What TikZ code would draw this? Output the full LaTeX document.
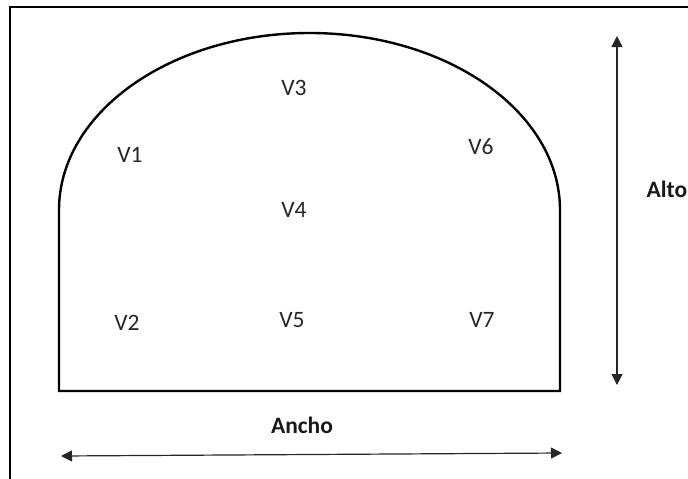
\documentclass[tikz,border=0pt]{standalone}
\usepackage{fontspec}
\setmainfont{Carlito}
\usetikzlibrary{arrows.meta}
\tikzset{
  label/.style = {font=\fontsize{23.5}{25}\selectfont, text=black!85},
  dimlabel/.style = {font=\fontsize{23.5}{25}\selectfont\bfseries, text=black!90},
  outline/.style = {draw, line width=2.4pt},
  dimarrow/.style = {{Triangle[length=11pt,width=11pt]}-{Triangle[length=11pt,width=11pt]}, line width=1.2pt, black!85}
}
\begin{document}
\begin{tikzpicture}[x=1pt, y=-1pt]
\useasboundingbox (0,0) rectangle (688,479);

% frame
\draw[line width=1.4pt] (10,479) -- (10,7) -- (688,7);

% section
\draw[outline] (59,391) -- (59,210) arc[start angle=180, end angle=0, x radius=250.5, y radius=-177] -- (560,391) -- cycle;

\node[label] (v1) at (130,155) {V1};
\node[label] (v2) at (127,323) {V2};
\node[label] (v3) at (294,88) {V3};
\node[label] (v4) at (294,210) {V4};
\node[label] (v5) at (292,320) {V5};
\node[label] (v6) at (481,147) {V6};
\node[label] (v7) at (482,320) {V7};

% dimensions
\coordinate (altotop) at (617,36);
\coordinate (altobot) at (617,385);
\draw[dimarrow] (altotop) -- (altobot);
\node[dimlabel, anchor=west] (alto) at (643,189) {Alto};

\coordinate (anchol) at (61,456);
\coordinate (anchor) at (562,453);
\draw[dimarrow] (anchol) -- (anchor);
\node[dimlabel] (ancho) at (302,425) {Ancho};
\end{tikzpicture}
\end{document}
